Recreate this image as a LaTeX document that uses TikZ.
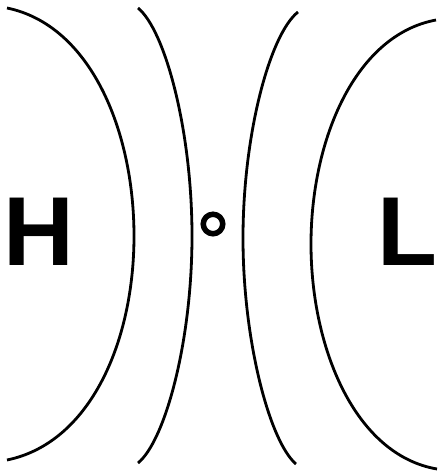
\documentclass[tikz,border=0pt]{standalone}
\usepackage{fontspec}
\setmainfont{Liberation Sans}
\usetikzlibrary{positioning}

\tikzset{
  isobar/.style={line width=2.8pt},
  centre/.style={font=\fontsize{98}{98}\selectfont\bfseries,inner sep=0pt}
}

\begin{document}
\begin{tikzpicture}[x=1pt,y=-1pt]
\useasboundingbox (0,0) rectangle (438,472);
% isobars
\draw[isobar] (7,8) .. controls (90,25) and (134,130) .. (134,236)
  .. controls (134,342) and (90,443) .. (7,460);
\draw[isobar] (138,8) .. controls (165,30) and (192,130) .. (192,236)
  .. controls (192,342) and (165,441) .. (138,463);
\draw[isobar] (298,12) .. controls (270,34) and (243,134) .. (243,238)
  .. controls (243,342) and (270,442) .. (296,464);
\draw[isobar] (436,20) .. controls (355,35) and (311,140) .. (311,244)
  .. controls (311,348) and (355,455) .. (437,469);
% high and low
\node[centre,anchor=base] (high) at (39,265) {H};
\node[centre,anchor=base west] (low) at (377,265) {L};
% point
\node[circle,draw,line width=5.5pt,minimum size=19.5pt,inner sep=0pt] (spot) at (213,224) {};
\end{tikzpicture}
\end{document}
